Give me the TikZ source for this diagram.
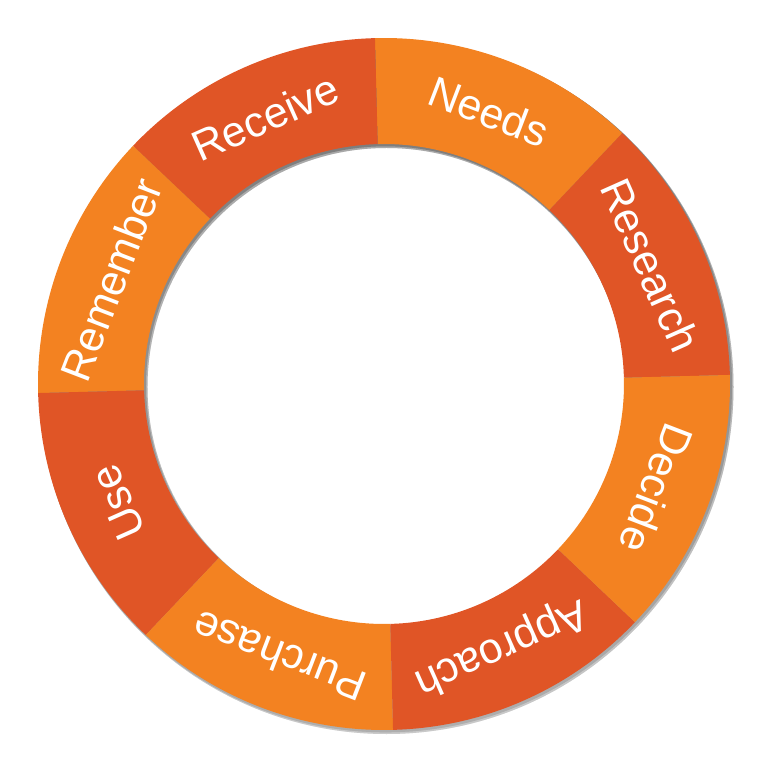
\documentclass[tikz,border=0pt]{standalone}
\usepackage{fontspec}
\setmainfont{Liberation Sans}
\definecolor{segdark}{HTML}{E05526}
\definecolor{seglite}{HTML}{F38221}
\definecolor{shade}{HTML}{D5DBE2}
\begin{document}
\begin{tikzpicture}[x=1pt,y=1pt,
  seglabel/.style={text=white,font=\fontsize{43}{43}\selectfont,inner sep=0pt,text height=31pt,text depth=0pt,anchor=center}]
\useasboundingbox (-384,-384) rectangle (384,384);
% soft shadow
\fill[shade,opacity=0.3,even odd rule] (2.5,-3) circle (347) (2.5,-3) circle (239);
\fill[shade,opacity=0.3,even odd rule] (1.5,-1.8) circle (346.5) (1.5,-1.8) circle (239.5);
\foreach \a/\col/\txt/\nm in {1.5/segdark/Research/research, 46.5/seglite/Needs/needs, 91.5/segdark/Receive/receive, 136.5/seglite/Remember/remember, 181.5/segdark/Use/use, 226.5/seglite/Purchase/purchase, 271.5/segdark/Approach/approach, 316.5/seglite/Decide/decide}{
  \pgfmathsetmacro{\b}{\a+45}
  \pgfmathsetmacro{\m}{\a+22.5}
  \pgfmathsetmacro{\r}{\m-90}
  \fill[\col] (\a:240) -- (\a:346) arc[start angle=\a, end angle=\b, radius=346] -- (\b:240) arc[start angle=\b, end angle=\a, radius=240] -- cycle;
  \node[seglabel,rotate=\r] (\nm) at (\m:292) {\txt};
}
\end{tikzpicture}
\end{document}
